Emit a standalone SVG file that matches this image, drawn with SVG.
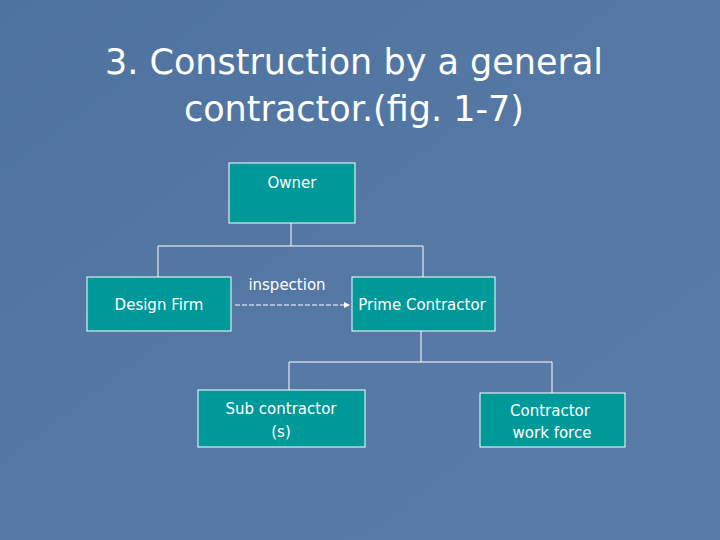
<svg xmlns="http://www.w3.org/2000/svg" width="720" height="540" viewBox="0 0 720 540">
<style>
.box{fill:#009999;stroke:#ffffff;stroke-width:1}
.t{font-family:"DejaVu Sans",sans-serif;font-size:15px;fill:#ffffff;text-anchor:middle}
.c{stroke:#ffffff;stroke-width:1;fill:none}
</style>
<defs>
<linearGradient id="bg" x1="0" y1="0" x2="1" y2="1"><stop offset="0" stop-color="#4f73a0"/><stop offset="1" stop-color="#5a7ca8"/></linearGradient>
<marker id="ar" viewBox="0 0 6 6" refX="5" refY="3" markerWidth="6" markerHeight="6" orient="auto"><path d="M0,0L6,3L0,6z" fill="#fff"/></marker>
</defs>
<rect width="720" height="540" fill="url(#bg)"/>
<text x="354" y="74" font-family="DejaVu Sans,sans-serif" font-size="35" fill="#fff" text-anchor="middle">3. Construction by a general</text>
<text x="354" y="121" font-family="DejaVu Sans,sans-serif" font-size="35" fill="#fff" text-anchor="middle">contractor.(fig. 1-7)</text>
<g id="connectors">
<path class="c" d="M291,223V246M158,246H423M158,246V277M423,246V277"/>
<path class="c" d="M421,331V362M289,362H552M289,362V390M552,362V393"/>
<line class="c" x1="235" y1="305" x2="349" y2="305" stroke-dasharray="5,2" marker-end="url(#ar)"/>
<text class="t" x="287" y="290">inspection</text>
</g>
<g id="owner"><rect class="box" x="229" y="163" width="126" height="60"/><text class="t" x="292" y="188">Owner</text></g>
<g id="design"><rect class="box" x="87" y="277" width="144" height="54"/><text class="t" x="159" y="310">Design Firm</text></g>
<g id="prime"><rect class="box" x="352" y="277" width="143" height="54"/><text class="t" x="422" y="310">Prime Contractor</text></g>
<g id="sub"><rect class="box" x="198" y="390" width="167" height="57"/><text class="t" x="281" y="414">Sub contractor</text><text class="t" x="281" y="437">(s)</text></g>
<g id="workforce"><rect class="box" x="480" y="393" width="145" height="54"/><text class="t" x="550" y="416">Contractor</text><text class="t" x="552" y="438">work force</text></g>
</svg>
